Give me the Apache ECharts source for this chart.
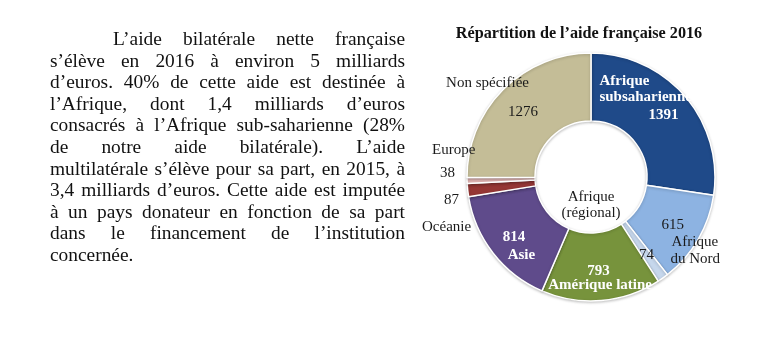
<!DOCTYPE html>
<html>
<head>
<meta charset="utf-8">
<script src="https://cdn.jsdelivr.net/npm/echarts@6/dist/echarts.min.js"></script>
<style>
  html, body { margin: 0; padding: 0; background: #fff; }
  #chart { position: absolute; left: 0; top: 0; width: 776px; height: 341px; }
  #para { position: absolute; left: 50px; top: 28px; width: 355px; font-family: 'Liberation Serif', serif; font-size: 19.4px; line-height: 21.6px; color: #111; z-index: 2; }
  #para div { text-align: justify; text-align-last: justify; white-space: nowrap; }
  #para div.first { padding-left: 63px; }
  #para div.last { text-align: left; text-align-last: left; }
</style>
</head>
<body>
<div id="chart"></div>
<div id="para"></div>
<script>
// ---- data ----
const paragraphLines = [
  'L’aide bilatérale nette française',
  's’élève en 2016 à environ 5 milliards',
  'd’euros. 40% de cette aide est destinée à',
  'l’Afrique, dont 1,4 milliards d’euros',
  'consacrés à l’Afrique sub-saharienne (28%',
  'de notre aide bilatérale). L’aide',
  'multilatérale s’élève pour sa part, en 2015, à',
  '3,4 milliards d’euros. Cette aide est imputée',
  'à un pays donateur en fonction de sa part',
  'dans le financement de l’institution',
  'concernée.'
];
const chartTitle = 'Répartition de l’aide française 2016';
const categories = ['Afrique subsaharienne', 'Afrique du Nord', 'Afrique (régional)', 'Amérique latine', 'Asie', 'Océanie', 'Europe', 'Non spécifiée'];
const values = [1391, 615, 74, 793, 814, 87, 38, 1276];

// ---- styles ----
const colors = ['#1F4A89', '#8DB3E2', '#C6D7EC', '#77933C', '#5F4B8B', '#953735', '#E6B9B8', '#C4BD97'];
const labelFormats = [
  '{wn|Afrique}\n{wn|subsaharienne}\n{wv|{c}}',
  '{dv|{c}}\n{dn1|Afrique}\n{dn2|du Nord}',
  '{dv|{c}}',
  '{wv2|{c}}\n{wn2|Amérique latine}',
  '{wv3|{c}}\n{wn3|Asie}',
  '{ov|{c}}\n{on|Océanie}',
  '{en|Europe}\n{ev|{c}}',
  '{nn|Non spécifiée}\n{nv|{c}}'
];
const labelShift = [[-2, -17], [50, 18], [54, 2], [9.5, 8.5], [45, 12], [-16.5, 27], [-6, -18], [-19, -14]];

const SERIF = 'Liberation Serif';
function rs(color, bold, lh, padLeft) {
  return { color: color, fontFamily: SERIF, fontSize: 15, fontWeight: bold ? 'bold' : 'normal', lineHeight: lh, align: 'left', padding: [0, 0, 0, padLeft] };
}
const W = '#ffffff', D = '#1a1a1a';
const rich = {
  wn: rs(W, true, 16, 0), wv: rs(W, true, 20, 49),
  dv: rs(D, false, 17, 0), dn1: rs(D, false, 17, 10), dn2: rs(D, false, 17, 9),
  wv2: rs(W, true, 14, 39), wn2: rs(W, true, 14, 0),
  wv3: rs(W, true, 18, 0), wn3: rs(W, true, 18, 5),
  ov: rs(D, false, 27, 22), on: rs(D, false, 27, 0),
  en: rs(D, false, 23, 0), ev: rs(D, false, 23, 8),
  nn: rs(D, false, 29, 0), nv: rs(D, false, 29, 62)
};

// paragraph as real text
const para = document.getElementById('para');
paragraphLines.forEach(function (t, i) {
  const d = document.createElement('div');
  d.textContent = t;
  if (i === 0) d.className = 'first';
  if (i === paragraphLines.length - 1) d.className = 'last';
  para.appendChild(d);
});

const chart = echarts.init(document.getElementById('chart'), null, { renderer: 'canvas' });
chart.setOption({
  animation: false,
  title: {
    text: chartTitle,
    left: 574, top: 21, textAlign: 'center',
    textStyle: { fontFamily: SERIF, fontSize: 16.2, fontWeight: 'bold', color: '#111' }
  },
  graphic: [{
    type: 'text', x: 591, y: 205,
    style: { text: 'Afrique\n(régional)', fill: D, font: '15px "Liberation Serif"', textAlign: 'center', textVerticalAlign: 'middle', lineHeight: 16 }
  }],
  series: [{
    type: 'pie',
    center: [591, 177],
    radius: [56, 124],
    startAngle: 90,
    clockwise: true,
    avoidLabelOverlap: false,
    itemStyle: { borderColor: '#fff', borderWidth: 1.5, shadowBlur: 3, shadowColor: 'rgba(0,0,0,0.22)', shadowOffsetY: 1 },
    label: { show: true, position: 'inside', width: 120, overflow: 'none', rich: rich },
    labelLine: { show: false },
    labelLayout: function (p) {
      const s = labelShift[p.dataIndex];
      return { dx: s[0], dy: s[1] };
    },
    emphasis: { disabled: true },
    data: categories.map(function (c, i) {
      return { name: c, value: values[i], itemStyle: { color: colors[i] }, label: { formatter: labelFormats[i] } };
    })
  }]
});
</script>
</body>
</html>
